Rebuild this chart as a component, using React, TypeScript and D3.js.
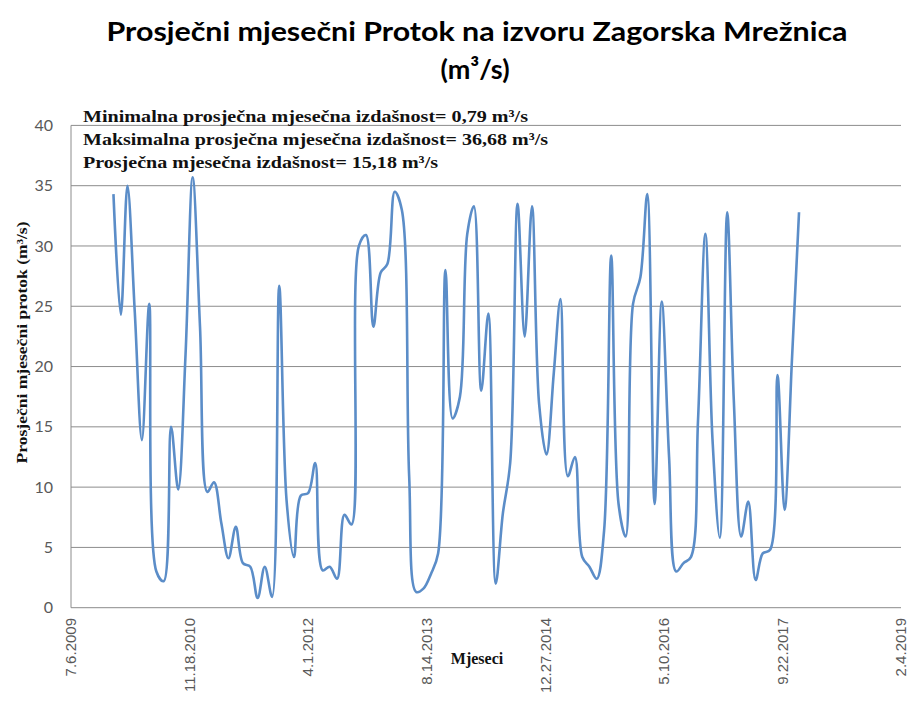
// Monthly average discharge at the Zagorska Mrežnica spring, drawn as a smoothed line on a date axis

import React, { useEffect, useRef } from "react"
import * as d3 from "d3"

// monthly averages (m³/s), one array per year, Jan..Dec
const flow2010 = [34.3, 24.3, 35.0, 24.5, 13.9, 25.2, 3.0, 2.2, 15.0, 9.8, 21.0, 35.7]
const flow2011 = [23.3, 9.6, 10.4, 7.0, 4.1, 6.7, 3.7, 3.4, 0.8, 3.4, 0.9, 26.7]
const flow2012 = [8.9, 4.2, 9.3, 9.5, 12.0, 3.1, 3.4, 2.4, 7.7, 6.9, 30.0, 30.9]
const flow2013 = [23.3, 27.8, 28.5, 34.5, 33.0, 10.9, 1.3, 1.6, 2.8, 4.5, 28.0, 15.7]
const flow2014 = [17.5, 31.0, 33.3, 18.0, 24.4, 2.0, 7.8, 12.0, 33.5, 22.5, 33.3, 16.9]
const flow2015 = [12.7, 19.5, 25.6, 10.9, 12.5, 4.2, 3.4, 2.4, 6.4, 29.2, 8.6, 5.9]
const flow2016 = [25.2, 27.4, 34.3, 8.6, 25.4, 12.5, 3.0, 3.7, 4.2, 15.5, 31.0, 14.0]
const flow2017 = [5.8, 32.8, 17.2, 5.9, 8.8, 2.3, 4.5, 4.8, 19.3, 8.1, 20.5, 32.8]

const years = [2010, 2011, 2012, 2013, 2014, 2015, 2016, 2017]
const flowByYear = [flow2010, flow2011, flow2012, flow2013, flow2014, flow2015, flow2016, flow2017]

// excel style date ticks (every 500 days)
const xTickLabels = ["7.6.2009", "11.18.2010", "4.1.2012", "8.14.2013", "12.27.2014", "5.10.2016", "9.22.2017", "2.4.2019"]
const yTicks = [0, 5, 10, 15, 20, 25, 30, 35, 40]

const notes = [
  "Minimalna prosječna mjesečna izdašnost= 0,79 m³/s",
  "Maksimalna prosječna mjesečna izdašnost= 36,68 m³/s",
  "Prosječna mjesečna izdašnost= 15,18 m³/s"
]
const noteWidths = [445, 465, 355]

function App() {
  const ref = useRef<SVGSVGElement>(null)

  useEffect(() => {
    const svg = d3.select(ref.current)
    svg.selectAll("*").remove()

    const parse = d3.timeParse("%-m.%-d.%Y")
    const tickDates = xTickLabels.map(s => parse(s) as Date)

    const data: { date: Date; value: number }[] = []
    years.forEach((yr, i) => {
      flowByYear[i].forEach((v, m) => data.push({ date: new Date(yr, m, 1), value: v }))
    })

    const left = 71, right = 901, top = 125.4, bottom = 607.7

    const x = d3.scaleTime()
      .domain([tickDates[0], tickDates[tickDates.length - 1]])
      .range([left, right])

    const y = d3.scaleLinear()
      .domain([0, 40])
      .range([bottom, top])

    // gridlines
    svg.append("g")
      .selectAll("line")
      .data(yTicks.filter(d => d > 0))
      .enter()
      .append("line")
      .attr("x1", left)
      .attr("x2", right)
      .attr("y1", d => y(d))
      .attr("y2", d => y(d))
      .attr("stroke", "#8c8c8c")
      .attr("stroke-width", 1)

    // axes lines
    svg.append("line")
      .attr("x1", left).attr("x2", right)
      .attr("y1", bottom).attr("y2", bottom)
      .attr("stroke", "#8c8c8c")
    svg.append("line")
      .attr("x1", left).attr("x2", left)
      .attr("y1", top).attr("y2", bottom)
      .attr("stroke", "#8c8c8c")

    // y tick labels
    svg.append("g")
      .selectAll("text")
      .data(yTicks)
      .enter()
      .append("text")
      .attr("x", 53)
      .attr("y", d => y(d))
      .attr("dy", "0.35em")
      .attr("text-anchor", "end")
      .attr("font-family", "Lato, 'Open Sans', sans-serif")
      .attr("font-size", 16)
      .attr("fill", "#595959")
      .text(d => d)

    // x tick labels, rotated
    svg.append("g")
      .selectAll("text")
      .data(tickDates)
      .enter()
      .append("text")
      .attr("transform", d => `translate(${x(d)},618) rotate(-90)`)
      .attr("dy", "0.35em")
      .attr("text-anchor", "end")
      .attr("font-family", "'Liberation Sans', Arial, sans-serif")
      .attr("font-size", 15)
      .attr("fill", "#595959")
      .text((d, i) => xTickLabels[i])

    // the series
    const line = d3.line<{ date: Date; value: number }>()
      .x(d => x(d.date))
      .y(d => y(d.value))
      .curve(d3.curveCatmullRom.alpha(0.5))

    svg.append("path")
      .datum(data)
      .attr("d", line)
      .attr("fill", "none")
      .attr("stroke", "#5b8dc8")
      .attr("stroke-width", 2.6)
      .attr("stroke-linejoin", "round")

    // title
    svg.append("text")
      .attr("x", 477)
      .attr("y", 41)
      .attr("text-anchor", "middle")
      .attr("font-family", "Lato, 'Open Sans', sans-serif")
      .attr("font-weight", "bold")
      .attr("font-size", 27)
      .attr("textLength", 741)
      .attr("lengthAdjust", "spacingAndGlyphs")
      .attr("fill", "#000")
      .text("Prosječni mjesečni Protok na izvoru Zagorska Mrežnica")
    svg.append("text")
      .attr("x", 475)
      .attr("y", 79)
      .attr("text-anchor", "middle")
      .attr("font-family", "Lato, 'Open Sans', sans-serif")
      .attr("font-weight", "bold")
      .attr("font-size", 27)
      .attr("fill", "#000")
      .text("(m³/s)")

    // notes in the top left of plot
    svg.append("g")
      .selectAll("text")
      .data(notes)
      .enter()
      .append("text")
      .attr("x", 83)
      .attr("y", (d, i) => 122 + i * 23)
      .attr("font-family", "'Liberation Serif', 'Times New Roman', serif")
      .attr("font-weight", "bold")
      .attr("font-size", 17)
      .attr("textLength", (d, i) => noteWidths[i])
      .attr("lengthAdjust", "spacingAndGlyphs")
      .attr("fill", "#111")
      .text(d => d)

    // axis titles
    svg.append("text")
      .attr("transform", "translate(22,342.5) rotate(-90)")
      .attr("dy", "0.35em")
      .attr("text-anchor", "middle")
      .attr("font-family", "'Liberation Serif', 'Times New Roman', serif")
      .attr("font-weight", "bold")
      .attr("font-size", 14)
      .attr("textLength", 242)
      .attr("lengthAdjust", "spacingAndGlyphs")
      .attr("fill", "#111")
      .text("Prosječni mjesečni protok (m³/s)")

    svg.append("text")
      .attr("x", 477)
      .attr("y", 664)
      .attr("text-anchor", "middle")
      .attr("font-family", "'Liberation Serif', 'Times New Roman', serif")
      .attr("font-weight", "bold")
      .attr("font-size", 16)
      .attr("fill", "#111")
      .text("Mjeseci")
  }, [])

  return (
    <svg
      ref={ref}
      width={910}
      height={702}
      style={{ position: "absolute", left: 0, top: 0, background: "#fff" }}
    ></svg>
  )
}

export default App
